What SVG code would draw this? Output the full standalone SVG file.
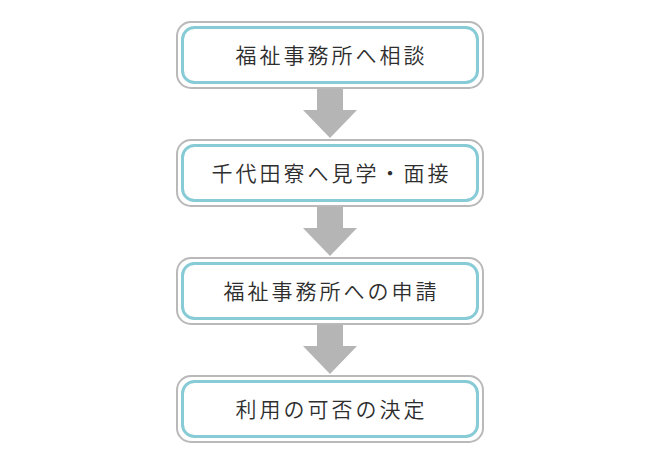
<svg xmlns="http://www.w3.org/2000/svg" width="660" height="470" viewBox="0 0 660 470">
<style>
.outer{fill:#fff;stroke:#b9b9b9;stroke-width:2}
.inner{fill:#fff;stroke:#86cbd5;stroke-width:3}
.lbl{font-family:"Noto Sans CJK JP","Noto Sans",sans-serif;font-size:21px;font-weight:350;fill:#2e2e2e;text-anchor:middle;letter-spacing:3px}
.arr{fill:#b5b5b5}
</style>
<rect width="660" height="470" fill="#fff"/>
<g id="connectors">
<polygon class="arr" points="317,88 343,88 343,110 357,110 330,138 303,110 317,110"/>
<polygon class="arr" points="317,206 343,206 343,228 357,228 330,256 303,228 317,228"/>
<polygon class="arr" points="317,324 343,324 343,346 357,346 330,374 303,346 317,346"/>
</g>
<g id="node1">
<rect class="outer" x="177" y="22" width="306" height="66" rx="14"/>
<rect class="inner" x="182.5" y="27.5" width="295" height="55" rx="12"/>
<text class="lbl" x="331.5" y="63">福祉事務所へ相談</text>
</g>
<g id="node2">
<rect class="outer" x="177" y="140" width="306" height="66" rx="14"/>
<rect class="inner" x="182.5" y="145.5" width="295" height="55" rx="12"/>
<text class="lbl" x="331.5" y="181">千代田寮へ見学・面接</text>
</g>
<g id="node3">
<rect class="outer" x="177" y="258" width="306" height="66" rx="14"/>
<rect class="inner" x="182.5" y="263.5" width="295" height="55" rx="12"/>
<text class="lbl" x="331.5" y="299">福祉事務所への申請</text>
</g>
<g id="node4">
<rect class="outer" x="177" y="376" width="306" height="66" rx="14"/>
<rect class="inner" x="182.5" y="381.5" width="295" height="55" rx="12"/>
<text class="lbl" x="331.5" y="417">利用の可否の決定</text>
</g>
</svg>
